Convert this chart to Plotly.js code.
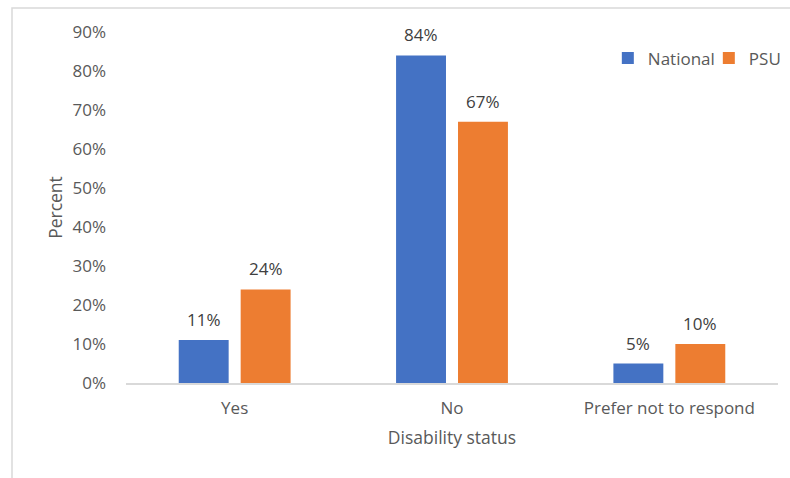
<!DOCTYPE html>
<html><head><meta charset="utf-8">
<script src="https://cdn.plot.ly/plotly-3.0.1.min.js"></script>
<style>html,body{margin:0;padding:0;background:#fff}#c{width:790px;height:478px}</style>
</head><body><div id="c"></div>
<script>
const categories = ["Yes", "No", "Prefer not to respond"];
const nationalValues = [11, 84, 5];
const psuValues = [24, 67, 10];
const yTickValues = [0, 10, 20, 30, 40, 50, 60, 70, 80, 90];
const yTickLabels = yTickValues.map(v => v + "%");

const font = "'Open Sans', 'Noto Sans', sans-serif";
const FS = 17;
const traces = [
  {type: "bar", name: "National", x: categories, y: nationalValues, marker: {color: "#4472C4"}, hoverinfo: "none"},
  {type: "bar", name: "PSU", x: categories, y: psuValues, marker: {color: "#ED7D31"}, hoverinfo: "none"}
];
const W = 790, H = 478, ml = 126, mr = 12, mt = 32, mb = 95;
const pw = W - ml - mr, ph = H - mt - mb;
const annotations = [];
[[nationalValues, -31], [psuValues, 31]].forEach(([vals, dx]) => {
  vals.forEach((v, i) => annotations.push({
    x: categories[i], y: v, xref: "x", yref: "y", text: v + "%", showarrow: false,
    xshift: dx, yanchor: "bottom", yshift: 7,
    font: {family: font, size: FS, color: "#404040"}
  }));
});
const layout = {
  width: W, height: H,
  margin: {l: ml, r: mr, t: mt, b: mb, pad: 0, autoexpand: false},
  paper_bgcolor: "#fff", plot_bgcolor: "#fff",
  font: {family: font, color: "#595959", size: FS},
  barmode: "group", bargap: 0.43, bargroupgap: 0.194,
  showlegend: true,
  annotations: annotations,
  legend: {orientation: "h", x: 0.739, y: 0.925, xanchor: "left", yanchor: "middle",
           font: {size: FS, color: "#595959"}, traceorder: "normal", entrywidth: 56, entrywidthmode: "pixels"},
  xaxis: {showline: true, linecolor: "#d9d9d9", linewidth: 1.5, ticks: "", showgrid: false,
          ticklabelstandoff: 9,
          title: {text: "Disability status", font: {size: 17.5, color: "#595959"}, standoff: 14},
          tickfont: {size: FS, color: "#595959"}},
  yaxis: {range: [0, 90], tickvals: yTickValues, ticktext: yTickLabels, showgrid: false,
          zeroline: false, showline: false, ticks: "", ticklabelstandoff: 19,
          title: {text: "Percent", font: {size: 17.5, color: "#595959"}, standoff: 5},
          tickfont: {size: FS, color: "#595959"}},
  shapes: [{type: "rect", xref: "paper", yref: "paper",
            x0: (12 - ml) / pw, x1: (W + 5 - ml) / pw,
            y0: -(H + 5 - mt - ph) / ph, y1: (H - 8 - mb) / ph,
            line: {color: "#d9d9d9", width: 1.5}, fillcolor: "rgba(0,0,0,0)", layer: "below"}]
};
Plotly.newPlot("c", traces, layout, {displayModeBar: false, staticPlot: true});
</script></body></html>
